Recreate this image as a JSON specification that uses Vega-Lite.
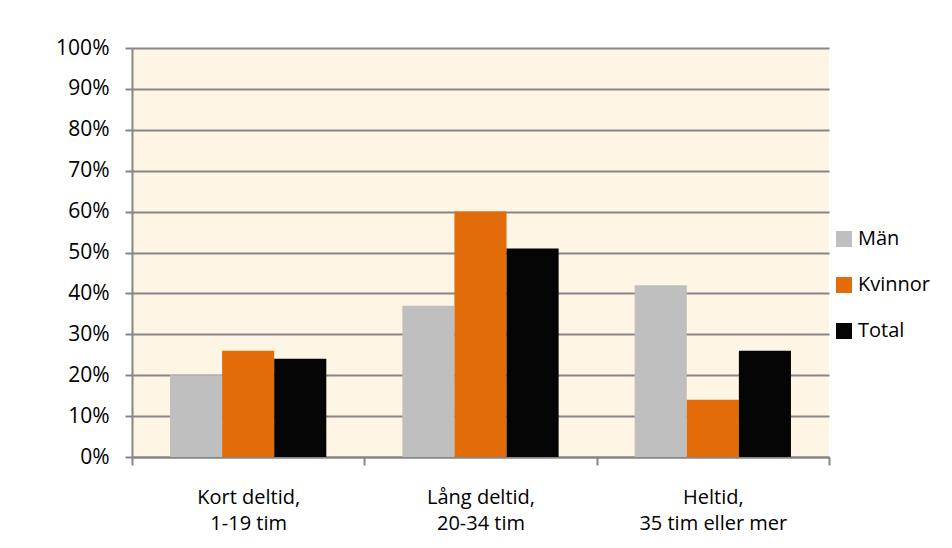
{
  "$schema": "https://vega.github.io/schema/vega-lite/v6.json",
  "autosize": {"type": "none"},
  "width": 697,
  "height": 409,
  "padding": {"left": 132, "top": 48, "right": 123, "bottom": 91},
  "background": "white",
  "data": {
    "values": [
      {"kategori": "Kort deltid,|1-19 tim", "grupp": "Män", "andel": 0.20},
      {"kategori": "Kort deltid,|1-19 tim", "grupp": "Kvinnor", "andel": 0.26},
      {"kategori": "Kort deltid,|1-19 tim", "grupp": "Total", "andel": 0.24},
      {"kategori": "Lång deltid,|20-34 tim", "grupp": "Män", "andel": 0.37},
      {"kategori": "Lång deltid,|20-34 tim", "grupp": "Kvinnor", "andel": 0.60},
      {"kategori": "Lång deltid,|20-34 tim", "grupp": "Total", "andel": 0.51},
      {"kategori": "Heltid,|35 tim eller mer", "grupp": "Män", "andel": 0.42},
      {"kategori": "Heltid,|35 tim eller mer", "grupp": "Kvinnor", "andel": 0.14},
      {"kategori": "Heltid,|35 tim eller mer", "grupp": "Total", "andel": 0.26}
    ]
  },
  "mark": {"type": "bar"},
  "encoding": {
    "x": {
      "field": "kategori",
      "type": "nominal",
      "sort": ["Kort deltid,|1-19 tim", "Lång deltid,|20-34 tim", "Heltid,|35 tim eller mer"],
      "scale": {"paddingInner": 0, "paddingOuter": 0},
      "axis": {
        "title": null,
        "labelAngle": 0,
        "labelExpr": "split(datum.label, '|')",
        "labelFont": "Open Sans",
        "labelFontSize": 20,
        "labelColor": "#000000",
        "labelLineHeight": 26,
        "labelPadding": 22,
        "tickBand": "extent",
        "tickSize": 8,
        "tickColor": "#868686",
        "tickWidth": 2,
        "domainColor": "#868686",
        "domainWidth": 2
      }
    },
    "xOffset": {
      "field": "grupp",
      "type": "nominal",
      "sort": ["Män", "Kvinnor", "Total"],
      "scale": {"paddingInner": 0, "paddingOuter": 0.73}
    },
    "y": {
      "field": "andel",
      "type": "quantitative",
      "scale": {"domain": [0, 1]},
      "axis": {
        "title": null,
        "format": ".0%",
        "values": [0, 0.1, 0.2, 0.3, 0.4, 0.5, 0.6, 0.7, 0.8, 0.9, 1],
        "labelFont": "Open Sans",
        "labelFontSize": 21,
        "labelColor": "#000000",
        "labelPadding": 16,
        "tickSize": 7,
        "tickColor": "#868686",
        "tickWidth": 2,
        "domainColor": "#868686",
        "domainWidth": 2,
        "grid": true,
        "gridColor": "#868686",
        "gridWidth": 2
      }
    },
    "color": {
      "field": "grupp",
      "type": "nominal",
      "sort": ["Män", "Kvinnor", "Total"],
      "scale": {"domain": ["Män", "Kvinnor", "Total"], "range": ["#BFBFBF", "#E36C0A", "#050505"]},
      "legend": {
        "title": null,
        "orient": "none",
        "legendX": 702,
        "legendY": 181,
        "symbolType": "square",
        "symbolSize": 256,
        "symbolStrokeWidth": 0,
        "labelFont": "Open Sans",
        "labelFontSize": 20,
        "labelColor": "#000000",
        "labelOffset": 4,
        "labelLimit": 200,
        "rowPadding": 26
      }
    }
  },
  "config": {
    "view": {"fill": "#FEF5E4", "stroke": null}
  }
}
